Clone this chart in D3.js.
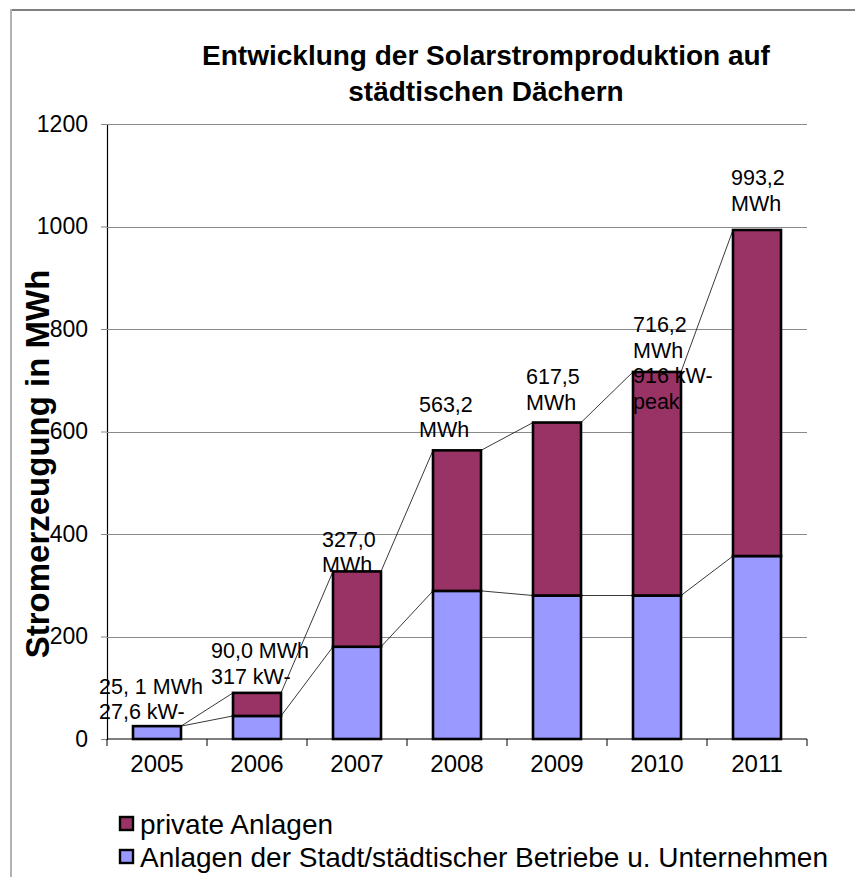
<!DOCTYPE html>
<html>
<head>
<meta charset="utf-8">
<script src="https://cdnjs.cloudflare.com/ajax/libs/d3/7.8.5/d3.min.js"></script>
<style>
    body { margin: 0; background: #fff; }
    svg text { font-family: "Liberation Sans", Arial, sans-serif; fill: #000; }
</style>
</head>
<body>
<div id="chart"></div>
<script>
// values (MWh)
const years = ['2005', '2006', '2007', '2008', '2009', '2010', '2011'];
const stadtAnlagen = [25.1, 45, 180, 289, 280, 280, 357];
const privateAnlagen = [0, 45, 147, 274.2, 337.5, 436.2, 636.2];
const labelTexts = [
    ['25, 1 MWh', '27,6 kW-'],
    ['90,0 MWh', '317 kW-'],
    ['327,0', 'MWh'],
    ['563,2', 'MWh'],
    ['617,5', 'MWh'],
    ['716,2', 'MWh', '916 kW-', 'peak'],
    ['993,2', 'MWh']
];
const yTicks = [0, 200, 400, 600, 800, 1000, 1200];
const seriesNames = ['private Anlagen', 'Anlagen der Stadt/städtischer Betriebe u. Unternehmen'];

const width = 855, height = 877;
const plot = {left: 107, right: 807, top: 124, bottom: 739};
const colors = {privat: '#993366', stadt: '#9999ff'};
// hand placed data labels in the original: shift from bar left / bar top
const labelDx = [-34, -22, -11, -14, -7, 0, -2];
const labelDy = [-7, -9, 1, -13, -13, 37, -19];

const svg = d3.select('#chart')
    .append('svg')
    .attr('width', width)
    .attr('height', height);

// chart frame (only top and left edge are visible)
svg.append('line')
    .attr('x1', 10).attr('x2', width).attr('y1', 10).attr('y2', 10)
    .attr('stroke', '#7f7f7f').attr('stroke-width', 2);
svg.append('line')
    .attr('x1', 11).attr('x2', 11).attr('y1', 9).attr('y2', height)
    .attr('stroke', '#b3b3b3').attr('stroke-width', 2);

const x = d3.scaleBand()
    .domain(years)
    .range([plot.left, plot.right])
    .paddingInner(0.52)
    .paddingOuter(0.26);

const y = d3.scaleLinear()
    .domain([0, 1200])
    .range([plot.bottom, plot.top]);

// y axis
const yAxis = svg.append('g')
    .attr('transform', `translate(${plot.left},0)`)
    .call(d3.axisLeft(y).tickValues(yTicks).tickFormat(d3.format('d')).tickSize(6).tickPadding(13));
yAxis.select('.domain').attr('stroke', '#000').attr('stroke-width', 1.2);
yAxis.selectAll('.tick line').attr('stroke', '#888');
yAxis.selectAll('.tick text')
    .attr('font-size', 23)
    .attr('font-family', '"Liberation Sans", Arial, sans-serif');

// gridlines
svg.append('g')
    .selectAll('line')
    .data(yTicks.filter(d => d > 0))
    .enter()
    .append('line')
    .attr('x1', plot.left).attr('x2', plot.right)
    .attr('y1', d => Math.round(y(d)) + 0.5).attr('y2', d => Math.round(y(d)) + 0.5)
    .attr('stroke', '#8a8a8a')
    .attr('stroke-width', 1);

// x axis with ticks between categories
const xAxis = svg.append('g')
    .attr('transform', `translate(0,${plot.bottom})`)
    .call(d3.axisBottom(x).tickSize(0).tickPadding(16));
xAxis.select('.domain').remove();
xAxis.selectAll('.tick text')
    .attr('font-size', 24)
    .attr('font-family', '"Liberation Sans", Arial, sans-serif');

const boundaries = d3.range(years.length + 1).map(i => plot.left + i * x.step());
svg.append('line')
    .attr('x1', plot.left).attr('x2', plot.right)
    .attr('y1', plot.bottom).attr('y2', plot.bottom)
    .attr('stroke', '#000').attr('stroke-width', 1.2);
svg.append('g')
    .selectAll('line')
    .data(boundaries)
    .enter()
    .append('line')
    .attr('x1', d => d).attr('x2', d => d)
    .attr('y1', plot.bottom).attr('y2', plot.bottom + 7)
    .attr('stroke', '#000');

// series lines between neighbouring bars
const totals = years.map((yr, i) => stadtAnlagen[i] + privateAnlagen[i]);
const lineGroup = svg.append('g');
[stadtAnlagen, totals].forEach(vals => {
    for (let i = 0; i < years.length - 1; i++) {
        lineGroup.append('line')
            .attr('x1', x(years[i]) + x.bandwidth())
            .attr('y1', y(vals[i]))
            .attr('x2', x(years[i + 1]))
            .attr('y2', y(vals[i + 1]))
            .attr('stroke', '#222')
            .attr('stroke-width', 0.9);
    }
});

// stacked bars
const bars = svg.append('g');
bars.selectAll('rect.stadt')
    .data(years)
    .enter()
    .append('rect')
    .attr('class', 'stadt')
    .attr('x', d => x(d))
    .attr('width', x.bandwidth())
    .attr('y', (d, i) => y(stadtAnlagen[i]))
    .attr('height', (d, i) => y(0) - y(stadtAnlagen[i]))
    .attr('fill', colors.stadt)
    .attr('stroke', '#000')
    .attr('stroke-width', 2.6);

bars.selectAll('rect.privat')
    .data(years.filter((d, i) => privateAnlagen[i] > 0))
    .enter()
    .append('rect')
    .attr('class', 'privat')
    .attr('x', d => x(d))
    .attr('width', x.bandwidth())
    .attr('y', d => y(totals[years.indexOf(d)]))
    .attr('height', d => y(stadtAnlagen[years.indexOf(d)]) - y(totals[years.indexOf(d)]))
    .attr('fill', colors.privat)
    .attr('stroke', '#000')
    .attr('stroke-width', 2.6);

// data labels
const lineH = 25.5;
years.forEach((yr, i) => {
    const lines = labelTexts[i];
    const baseY = y(totals[i]) + labelDy[i] - (lines.length - 1) * lineH;
    const t = svg.append('text')
        .attr('x', x(yr) + labelDx[i])
        .attr('y', baseY)
        .attr('font-size', 21.5);
    lines.forEach((ln, j) => {
        t.append('tspan')
            .attr('x', x(yr) + labelDx[i])
            .attr('y', baseY + j * lineH)
            .text(ln);
    });
});

// title
const title = svg.append('text')
    .attr('text-anchor', 'middle')
    .attr('font-size', 28)
    .attr('font-weight', 'bold');
title.append('tspan').attr('x', 486).attr('y', 65).text('Entwicklung der Solarstromproduktion auf');
title.append('tspan').attr('x', 486).attr('y', 101).text('städtischen Dächern');

// y axis title
svg.append('text')
    .attr('transform', 'translate(49,464) rotate(-90)')
    .attr('text-anchor', 'middle')
    .attr('font-size', 33)
    .attr('font-weight', 'bold')
    .text('Stromerzeugung in MWh');

// legend
const legend = svg.append('g');
const legendColors = [colors.privat, colors.stadt];
seriesNames.forEach((name, i) => {
    legend.append('rect')
        .attr('x', 120).attr('y', 817 + i * 33)
        .attr('width', 13).attr('height', 13)
        .attr('fill', legendColors[i])
        .attr('stroke', '#000')
        .attr('stroke-width', 2.4);
    legend.append('text')
        .attr('x', 140).attr('y', 834 + i * 33)
        .attr('font-size', 28)
        .text(name);
});
</script>
</body>
</html>
